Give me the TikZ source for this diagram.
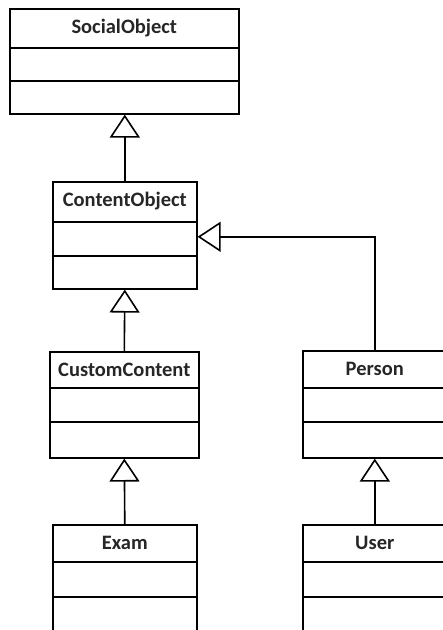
\documentclass[tikz,border=0pt]{standalone}
\usepackage{fontspec}
\setmainfont{Carlito}
\usetikzlibrary{arrows.meta}
\begin{document}
\begin{tikzpicture}[x=1pt,y=-1pt,
  cls/.style={draw=black, line width=1.6pt, rectangle, inner sep=0pt, anchor=north west},
  sep/.style={line width=1.6pt},
  lbl/.style={font=\bfseries\fontsize{20.5}{24}\selectfont, text=black!85, inner sep=0pt},
  inh/.style={line width=1.6pt, -{Triangle[open, length=23pt, width=30pt]}}]
\useasboundingbox (0,0) rectangle (443,630);
\clip (0,0) rectangle (443,630);
% SocialObject
\node[cls, minimum width=229pt, minimum height=105pt] (so) at (9,8) {};
\draw[sep] ([yshift=-40pt]so.north west) -- ([yshift=-40pt]so.north east);
\draw[sep] ([yshift=-73pt]so.north west) -- ([yshift=-73pt]so.north east);
\node[lbl] (solbl) at ([yshift=-20pt]so.north) {SocialObject};
% ContentObject
\node[cls, minimum width=144pt, minimum height=107pt] (co) at (52,181) {};
\draw[sep] ([yshift=-41pt]co.north west) -- ([yshift=-41pt]co.north east);
\draw[sep] ([yshift=-75pt]co.north west) -- ([yshift=-75pt]co.north east);
\node[lbl] (colbl) at ([yshift=-20.5pt]co.north) {ContentObject};
% CustomContent
\node[cls, minimum width=149pt, minimum height=106pt] (cc) at (49,351) {};
\draw[sep] ([yshift=-37pt]cc.north west) -- ([yshift=-37pt]cc.north east);
\draw[sep] ([yshift=-71pt]cc.north west) -- ([yshift=-71pt]cc.north east);
\node[lbl] (cclbl) at ([yshift=-18.5pt]cc.north) {CustomContent};
% Exam
\node[cls, minimum width=144pt, minimum height=108pt] (ex) at (52,524) {};
\draw[sep] ([yshift=-38pt]ex.north west) -- ([yshift=-38pt]ex.north east);
\draw[sep] ([yshift=-73pt]ex.north west) -- ([yshift=-73pt]ex.north east);
\node[lbl] (exlbl) at ([yshift=-19pt]ex.north) {Exam};
% Person
\node[cls, minimum width=144pt, minimum height=107pt] (pe) at (302,350) {};
\draw[sep] ([yshift=-38pt]pe.north west) -- ([yshift=-38pt]pe.north east);
\draw[sep] ([yshift=-72pt]pe.north west) -- ([yshift=-72pt]pe.north east);
\node[lbl] (pelbl) at ([yshift=-19pt]pe.north) {Person};
% User
\node[cls, minimum width=144pt, minimum height=108pt] (us) at (302,524) {};
\draw[sep] ([yshift=-38pt]us.north west) -- ([yshift=-38pt]us.north east);
\draw[sep] ([yshift=-73pt]us.north west) -- ([yshift=-73pt]us.north east);
\node[lbl] (uslbl) at ([yshift=-19pt]us.north) {User};
% inheritance
\draw[inh] (co.north) -- (co.north |- so.south);
\draw[inh] (cc.north) -- (co.south);
\draw[inh] (ex.north) -- (cc.south);
\draw[inh] (us.north) -- (pe.south);
\draw[inh] (pe.north) |- ([yshift=-1.5pt]co.east);
\end{tikzpicture}
\end{document}
